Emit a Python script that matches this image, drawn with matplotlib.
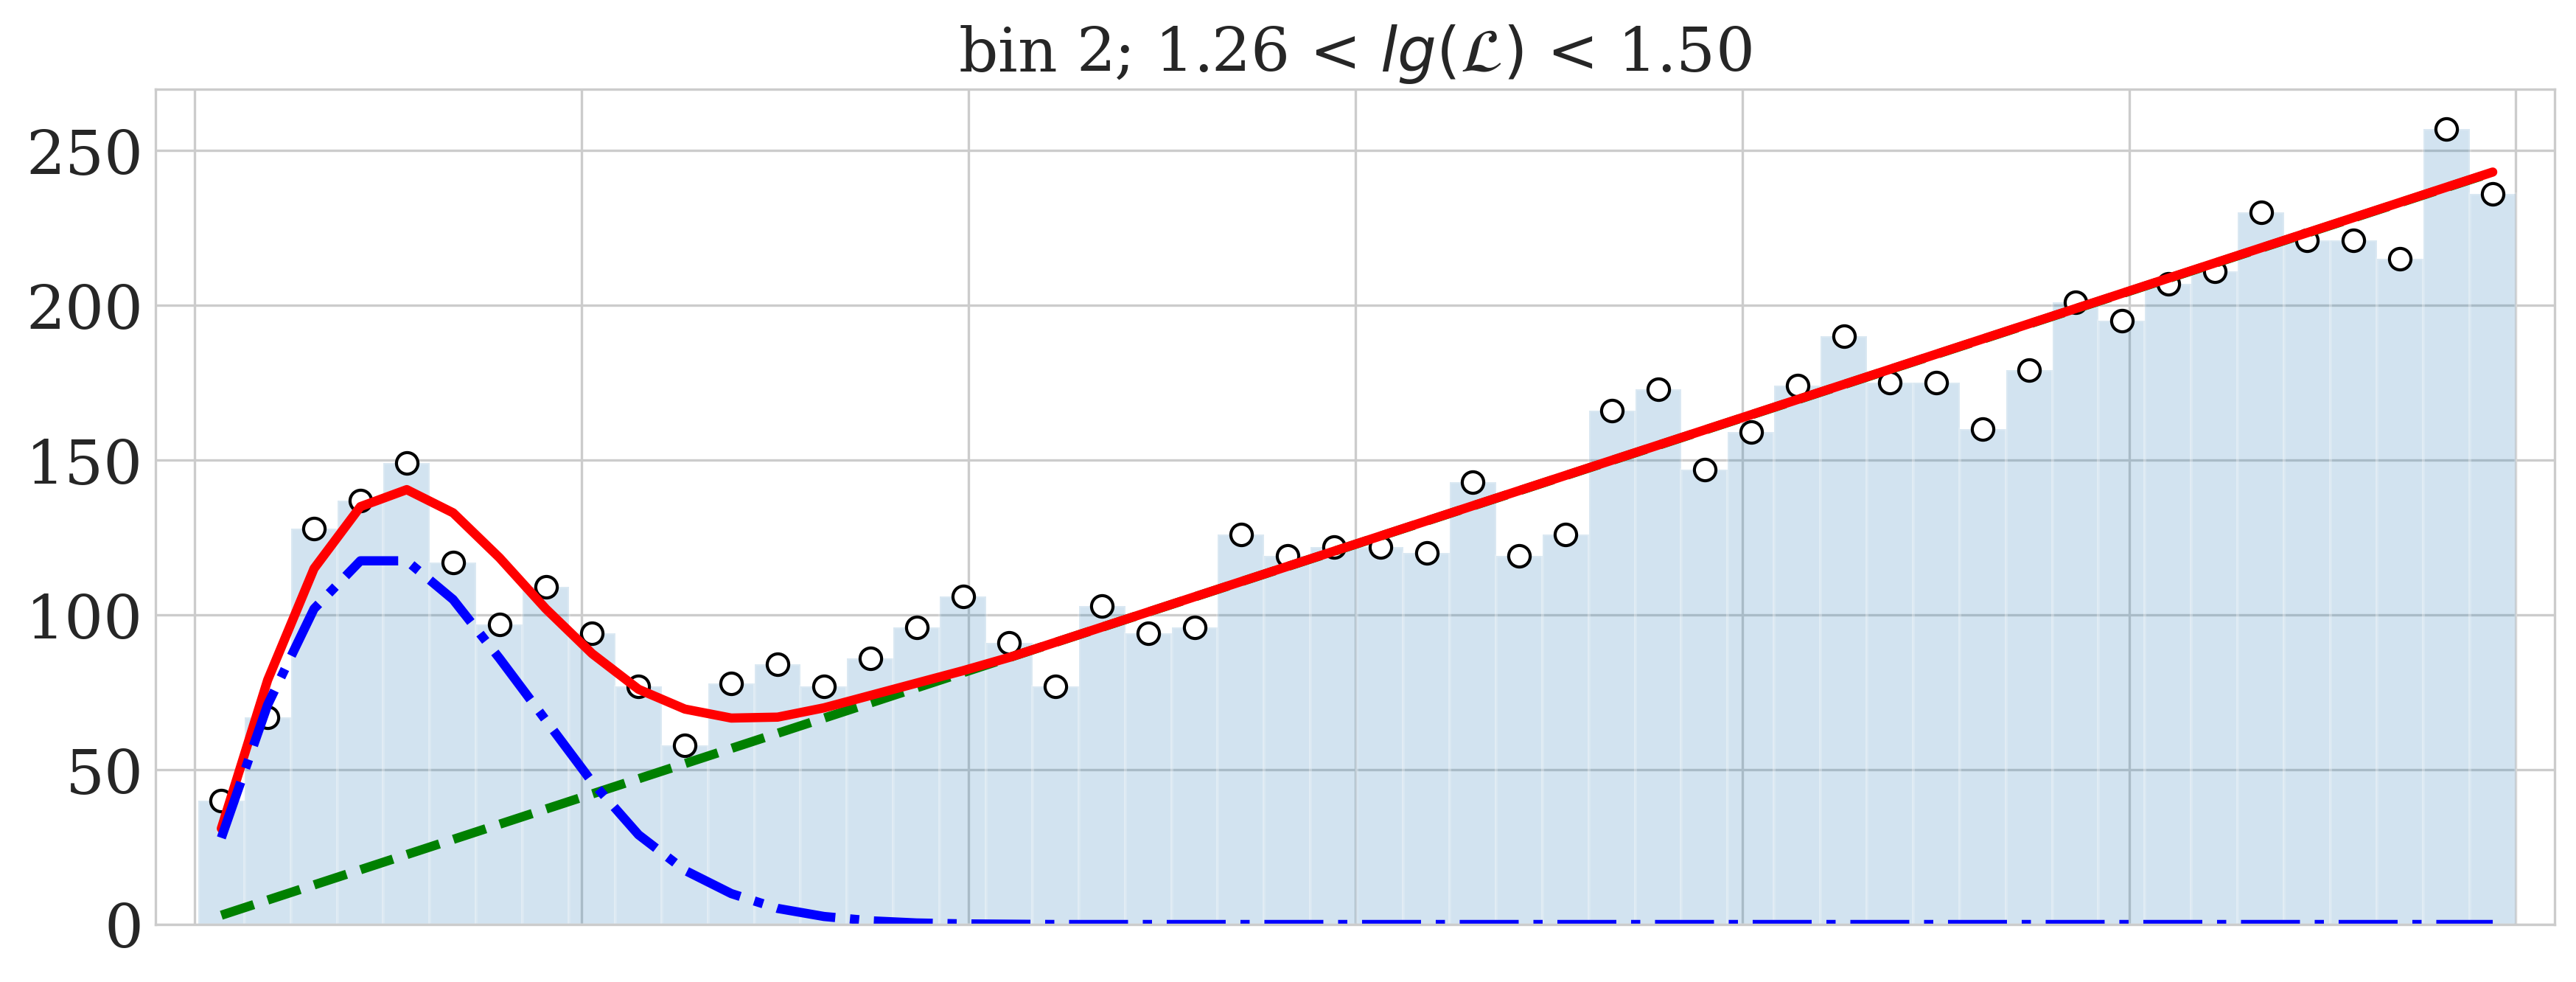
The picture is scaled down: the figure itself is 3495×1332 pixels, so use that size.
import numpy as np
import seaborn as sns
import matplotlib
matplotlib.use("Agg")
import matplotlib.pyplot as plt

# histogram counts per bin (50 bins)
counts = [40, 67, 128, 137, 149, 117, 97, 109, 94, 77,
          58, 78, 84, 77, 86, 96, 106, 91, 77, 103,
          94, 96, 126, 119, 122, 122, 120, 143, 119, 126,
          166, 173, 147, 159, 174, 190, 175, 175, 160, 179,
          201, 195, 207, 211, 230, 221, 221, 215, 257, 236]

# total fit evaluated at bin centres
fit_total = [31, 79, 115, 135, 140.5, 133, 118.5, 102, 87.5, 76,
             69.6, 66.7, 67, 70, 74, 78, 82, 86.3, 91.2, 96.1,
             101.0, 105.9, 110.8, 115.7, 120.6, 125.5, 130.4, 135.3, 140.2, 145.1,
             150.0, 154.9, 159.8, 164.7, 169.6, 174.5, 179.4, 184.3, 189.2, 194.1,
             199.0, 203.9, 208.8, 213.7, 218.6, 223.5, 228.4, 233.3, 238.2, 243.1]

# peak component
fit_peak = [28, 71, 102, 117.5, 117.5, 105, 86, 66, 46, 29,
            17.5, 10, 5.2, 2.6, 1.2, 0.5, 0.2, 0.1, 0, 0,
            0, 0, 0, 0, 0, 0, 0, 0, 0, 0,
            0, 0, 0, 0, 0, 0, 0, 0, 0, 0,
            0, 0, 0, 0, 0, 0, 0, 0, 0, 0]

# linear background: value at first and last bin centre
fit_linear = [3.0, 243.0]

title = r"bin 2; 1.26 < $lg(\mathcal{L})$ < 1.50"

sns.set_style("whitegrid")
plt.rcParams["font.family"] = ["DejaVu Serif"]

edges = np.linspace(0.01, 6.0, len(counts) + 1)
width = edges[1] - edges[0]
centers = edges[:-1] + width / 2

fig = plt.figure(figsize=(11.65, 4.443), dpi=300)
ax = fig.add_axes([0.0604, 0.0585, 0.9313, 0.85])

ax.bar(centers, counts, width=width, color="tab:blue", alpha=0.2,
       edgecolor="white", linewidth=1.0)
ax.plot(centers, counts, "o", ms=7, mfc="white", mec="black", mew=1.0)
ax.plot([centers[0], centers[-1]], fit_linear, "--", color="green", lw=3)
ax.plot(centers, fit_total, "-", color="red", lw=3)
ax.plot(centers, fit_peak, "-.", color="blue", lw=3)

ax.set_xlim(-0.1, 6.1)
ax.set_ylim(0, 269.85)
ax.set_xticks(np.arange(0, 7))
ax.set_xticklabels([])
ax.set_yticks(np.arange(0, 251, 50))

ax.tick_params(axis="y", direction="in", length=4.5, width=1.1,
               color="#262626", labelsize=20, pad=4)
ax.tick_params(axis="x", direction="in", length=5.5, width=1.1,
               color="#262626")
ax.set_title(title, fontsize=20)

fig.savefig("out.png", dpi=300)
